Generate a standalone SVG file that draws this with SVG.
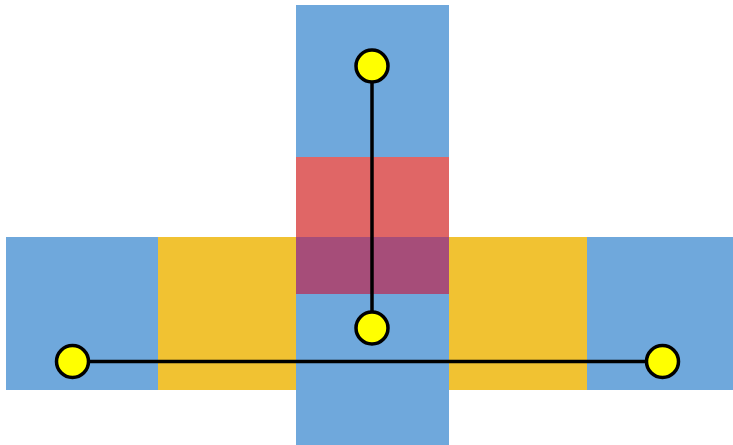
<svg xmlns="http://www.w3.org/2000/svg" width="733" height="445" viewBox="0 0 733 445">
<style>
.blue{fill:#6fa8dc}
.red{fill:#e06666}
.yellow{fill:#f1c232}
.purple{fill:#a64d79}
.link{stroke:#000;stroke-width:3.5;fill:none}
.pin{fill:#ffff00;stroke:#000;stroke-width:3.5}
</style>
<g id="shapes">
<rect class="blue" x="296" y="5" width="153" height="440"/>
<rect class="red" x="296" y="157" width="153" height="80"/>
<rect class="blue" x="6" y="237" width="152" height="153"/>
<rect class="yellow" x="158" y="237" width="138" height="153"/>
<rect class="purple" x="296" y="237" width="153" height="57"/>
<rect class="yellow" x="449" y="237" width="138" height="153"/>
<rect class="blue" x="587" y="237" width="146" height="153"/>
</g>
<g id="connectors">
<line class="link" x1="372" y1="66" x2="372" y2="328"/>
<line class="link" x1="72.5" y1="361.5" x2="662.5" y2="361.5"/>
</g>
<g id="node-top"><circle class="pin" cx="372" cy="66" r="16"/></g>
<g id="node-center"><circle class="pin" cx="372" cy="328" r="16"/></g>
<g id="node-left"><circle class="pin" cx="72.5" cy="361.5" r="16"/></g>
<g id="node-right"><circle class="pin" cx="662.5" cy="361.5" r="16"/></g>
</svg>
